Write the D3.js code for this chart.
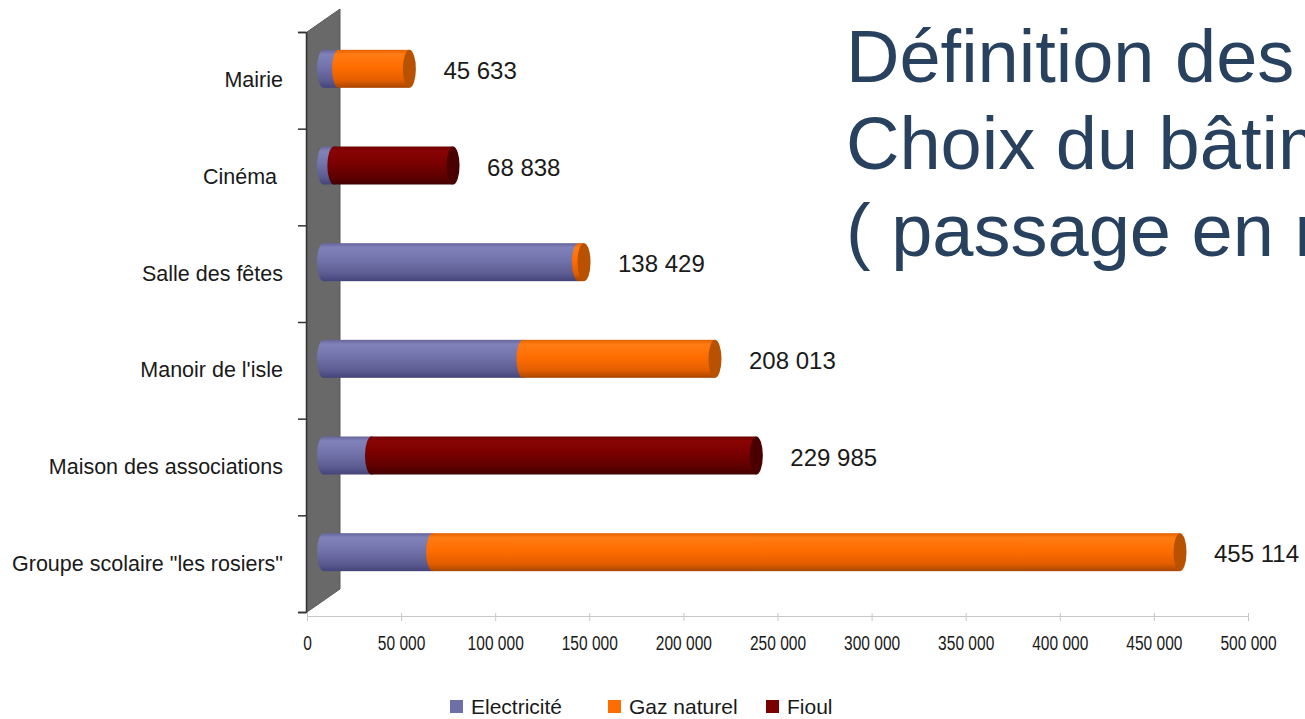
<!DOCTYPE html>
<head>
  <meta charset="utf-8">
  <script src="https://d3js.org/d3.v7.min.js"></script>
  <style>
    body{ margin: 0; background: #ffffff; }
    text{ font-family: "Liberation Sans", Arial, sans-serif; }
    text.title{ font-size: 74px; fill: #27415f; }
    text.catLabel{ font-size: 21.5px; fill: #1a1a1a; }
    text.valueLabel{ font-size: 24px; fill: #1a1a1a; }
    text.legendText{ font-size: 21px; fill: #1a1a1a; }
    .xAxis .tick text{ font-size: 21px; fill: #1a1a1a; }
    .xAxis path.domain, .xAxis .tick line{ stroke: #c8c8c8; }
    .yAxis path.domain, .yAxis .tick line{ stroke: #333333; stroke-width: 1.5; }
  </style>
</head>

<body>
  <script>
    // data
    const categories = ["Mairie", "Cinéma ", "Salle des fêtes", "Manoir de l'isle", "Maison des associations", "Groupe scolaire \"les rosiers\""];
    const seriesNames = ["Electricité", "Gaz naturel", "Fioul"];
    const electricite = [8000, 5500, 135500, 106000, 25500, 58000];
    const gazNaturel = [37633, 0, 2929, 102013, 0, 397114];
    const fioul = [0, 63338, 0, 0, 204485, 0];
    const totalLabels = ["45 633", "68 838", "138 429", "208 013", "229 985", "455 114"];
    const xTicks = [0, 50000, 100000, 150000, 200000, 250000, 300000, 350000, 400000, 450000, 500000];
    // slide title, cut by the right edge of the picture as in the slide
    const titleLines = ["Définition des", "Choix du bâtim", "( passage en m"];

    const width = 1305, height = 719;

    const svg = d3.select("body").append("svg")
      .attr("width", width)
      .attr("height", height);

    // 3D depth of the chart box, bars sit in the middle of it
    const depth = {dx: 33, dy: -23};
    const barThick = 38;
    const capRx = 6.5;

    const x = d3.scaleLinear().domain([0, 500000]).range([307, 1248]);
    const y = d3.scaleBand().domain(categories).range([32, 612]);
    const yEdge = d3.scaleLinear().domain([0, categories.length]).range([32, 612]);

    const colours = {
      "Electricité": {stops: ["#66669c", "#8282ba", "#7373ac", "#5c5c92", "#44447a"], cap: "#56568c", key: "#6f6fa8"},
      "Gaz naturel": {stops: ["#e26200", "#ff7c14", "#ff6d00", "#e35e00", "#a84600"], cap: "#b85200", key: "#ff6d00"},
      "Fioul": {stops: ["#6c0000", "#8a0404", "#790000", "#5e0000", "#420000"], cap: "#4a0000", key: "#7a0000"}
    };

    const defs = svg.append("defs");
    seriesNames.forEach((s, i) => {
      const g = defs.append("linearGradient")
        .attr("id", "grad" + i)
        .attr("x1", 0).attr("y1", 0).attr("x2", 0).attr("y2", 1);
      [0, 0.12, 0.45, 0.8, 1].forEach((o, j) => {
        g.append("stop").attr("offset", o).attr("stop-color", colours[s].stops[j]);
      });
    });

    svg.append("text")
      .attr("class", "title")
      .selectAll("tspan")
      .data(titleLines)
      .enter()
      .append("tspan")
      .attr("x", 846)
      .attr("y", (d, i) => 82 + i * 87)
      .text(d => d);

    // side wall
    const wall = [
      [x(0), yEdge(0)],
      [x(0) + depth.dx, yEdge(0) + depth.dy],
      [x(0) + depth.dx, yEdge(categories.length) + depth.dy],
      [x(0), yEdge(categories.length)]
    ];
    svg.append("polygon")
      .attr("points", wall.map(p => p.join(",")).join(" "))
      .style("fill", "#696969")
      .style("stroke", "#5a5a5a");

    // left axis (ticks between categories)
    svg.append("g")
      .attr("class", "axis yAxis")
      .attr("transform", `translate(${x(0) - 1}, 0)`)
      .call(d3.axisLeft(yEdge).ticks(categories.length).tickSize(8).tickSizeOuter(8).tickFormat(""));

    // bottom axis, narrow tick labels
    svg.append("g")
      .attr("class", "axis xAxis")
      .attr("transform", `translate(0, ${yEdge(categories.length) + 4})`)
      .call(d3.axisBottom(x)
        .tickValues(xTicks)
        .tickSize(5)
        .tickSizeOuter(0)
        .tickPadding(14)
        .tickFormat(d => d3.format(",")(d).replace(/,/g, " ")))
      .call(g => g.selectAll(".tick line").attr("y1", -3))
      .call(g => g.selectAll(".tick text").attr("transform", "scale(0.74,1)"));

    // category labels
    svg.selectAll("text.catLabel")
      .data(categories)
      .enter()
      .append("text")
      .attr("class", "catLabel")
      .attr("x", 283)
      .attr("y", d => y(d) + y.bandwidth() / 2 + 7)
      .style("text-anchor", "end")
      .style("white-space", "pre")
      .text(d => d);

    // stacked cylinders
    const values = [electricite, gazNaturel, fioul];
    const bars = svg.selectAll("g.bar")
      .data(categories)
      .enter()
      .append("g")
      .attr("class", "bar")
      .attr("transform", `translate(${depth.dx / 2}, ${depth.dy / 2})`);

    bars.each(function(cat, ci) {
      const g = d3.select(this);
      const cy = y(cat) + y.bandwidth() / 2;
      let acc = 0;
      let lastSeries = 0;
      values.forEach((vals, si) => {
        const v = vals[ci];
        if (!v) return;
        const x0 = x(acc), x1 = x(acc + v);
        g.append("rect")
          .attr("x", x0)
          .attr("y", cy - barThick / 2)
          .attr("width", x1 - x0)
          .attr("height", barThick)
          .style("fill", `url(#grad${si})`);
        g.append("ellipse")
          .attr("cx", x0)
          .attr("cy", cy)
          .attr("rx", capRx)
          .attr("ry", barThick / 2)
          .style("fill", `url(#grad${si})`);
        acc += v;
        lastSeries = si;
      });
      g.append("ellipse")
        .attr("cx", x(acc))
        .attr("cy", cy)
        .attr("rx", capRx)
        .attr("ry", barThick / 2)
        .style("fill", colours[seriesNames[lastSeries]].cap);

      g.append("text")
        .attr("class", "valueLabel")
        .attr("x", x(acc) + 34)
        .attr("y", cy + 10)
        .text(totalLabels[ci]);
    });

    // legend
    const legend = svg.selectAll("g.legend")
      .data(seriesNames)
      .enter()
      .append("g")
      .attr("class", "legend")
      .attr("transform", (d, i) => `translate(${450 + i * 158}, 700)`);

    legend.append("rect")
      .attr("width", 13)
      .attr("height", 13)
      .style("fill", d => colours[d].key);

    legend.append("text")
      .attr("class", "legendText")
      .attr("x", 21)
      .attr("y", 14)
      .text(d => d);
  </script>
</body>
